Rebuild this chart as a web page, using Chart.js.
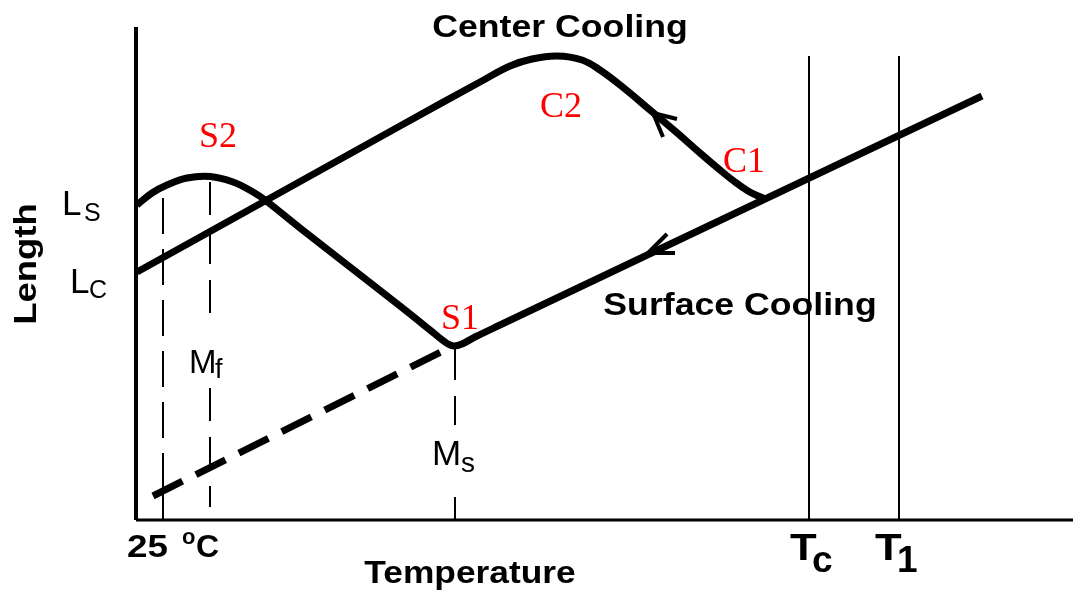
<!DOCTYPE html>
<html>
<head>
<meta charset="utf-8">
<script src="https://cdn.jsdelivr.net/npm/chart.js@4.4.1/dist/chart.umd.min.js"></script>
<style>
  html, body { margin: 0; padding: 0; background: #fff; }
</style>
</head>
<body>
<canvas id="c" width="1073" height="592"></canvas>
<script>
// temperature (x) and length (y) in arbitrary units
const surfaceT = [1, 16, 31, 51, 74, 97, 117, 129, 164, 214, 264, 294, 305, 312, 318, 326, 339, 364, 627, 846];
const surfaceL = [315, 327, 335, 342, 343.5, 338, 328, 320, 292, 253, 214, 190, 181, 176, 174, 176, 183, 195, 320, 424];

const centerT = [1, 129, 264, 344, 374, 396, 421, 446, 464, 489, 514, 539, 564, 584, 599, 612, 622, 630];
const centerL = [248, 319, 394, 438, 454, 461, 464, 460, 450, 431, 410, 389, 367, 350, 338, 329, 324, 321];

// dashed extrapolation of the expansion line below Ms
const extrapT = [17, 309];
const extrapL = [24, 170];

// x-axis ticks: 25 oC, Tc, T1
const tickTemps = [27, 673, 763];
const tickTop = [322, 464, 464];

// transformation temperatures
const mfTemp = 74, msTemp = 319;
const mfTop = 338, msTop = 173;

// arrow heads (barb, tip, barb)
const arrowCenterT = [541, 517, 527];
const arrowCenterL = [401, 407, 383];
const arrowSurfT = [531, 512, 539];
const arrowSurfL = [286, 267, 267];

const pts = (xs, ys) => xs.map((x, i) => ({ x: x, y: ys[i] }));

function line(data, width, dash, tension) {
  return {
    data: data,
    borderColor: '#000',
    borderWidth: width,
    borderDash: dash || [],
    borderJoinStyle: 'round',
    pointRadius: 0,
    showLine: true,
    fill: false,
    clip: false,
    tension: tension || 0
  };
}

function txt(ctx, s, x, y, font, o) {
  o = o || {};
  ctx.save();
  ctx.font = font;
  ctx.fillStyle = o.color || '#000';
  ctx.textAlign = o.align || 'left';
  ctx.textBaseline = 'alphabetic';
  ctx.translate(x, y);
  if (o.rot) ctx.rotate(o.rot);
  ctx.scale(o.sx || 1, 1);
  ctx.fillText(s, 0, 0);
  ctx.restore();
}

const BOLD = s => 'bold ' + s + 'px "Liberation Sans", Arial, sans-serif';
const REG = s => s + 'px "Liberation Sans", Arial, sans-serif';
const SERIF = '36px "Liberation Serif", "Times New Roman", serif';

const labelsPlugin = {
  id: 'labels',
  afterDraw(chart) {
    const ctx = chart.ctx;
    const px = v => chart.scales.x.getPixelForValue(v);
    const py = v => chart.scales.y.getPixelForValue(v);

    // titles
    txt(ctx, 'Center Cooling', 560, 37, BOLD(31), { align: 'center', sx: 1.15 });
    txt(ctx, 'Surface Cooling', 740, 315, BOLD(31), { align: 'center', sx: 1.15 });
    txt(ctx, 'Temperature', 470, 583, BOLD(31), { align: 'center', sx: 1.14 });
    txt(ctx, 'Length', 36, 264, BOLD(32), { align: 'center', sx: 1.14, rot: -Math.PI / 2 });

    // tick labels
    const t0 = px(tickTemps[0]), tc = px(tickTemps[1]), t1 = px(tickTemps[2]);
    txt(ctx, '25', t0 - 36, 557, BOLD(32), { sx: 1.15 });
    txt(ctx, 'o', t0 + 19, 544, BOLD(22));
    txt(ctx, 'C', t0 + 33, 557, BOLD(32));
    txt(ctx, 'T', tc - 19, 560, BOLD(37), { sx: 1.18 });
    txt(ctx, 'c', tc + 3, 572, BOLD(37));
    txt(ctx, 'T', t1 - 24, 560, BOLD(37), { sx: 1.18 });
    txt(ctx, '1', t1 - 2, 572, BOLD(37));

    // length markers
    txt(ctx, 'L', 62, py(surfaceL[0]) + 10, REG(35));
    txt(ctx, 'S', 84, py(surfaceL[0]) + 16, REG(25));
    txt(ctx, 'L', 70, py(centerL[0]) + 21, REG(35));
    txt(ctx, 'C', 89, py(centerL[0]) + 26, REG(25));

    // Mf, Ms
    txt(ctx, 'M', px(mfTemp) - 21, 373, REG(33));
    txt(ctx, 'f', px(mfTemp) + 5, 378, REG(27));
    txt(ctx, 'M', px(msTemp) - 23, 465, REG(35));
    txt(ctx, 's', px(msTemp) + 6, 472, REG(28));

    // red point labels
    txt(ctx, 'S2', 218, 147, SERIF, { align: 'center', color: '#ff0000' });
    txt(ctx, 'C2', 561, 117, SERIF, { align: 'center', color: '#ff0000' });
    txt(ctx, 'C1', 744, 172, SERIF, { align: 'center', color: '#ff0000' });
    txt(ctx, 'S1', 460, 329, SERIF, { align: 'center', color: '#ff0000' });
  }
};

new Chart(document.getElementById('c'), {
  type: 'scatter',
  data: {
    datasets: [
      // axes
      line([{ x: 0, y: 0 }, { x: 0, y: 493 }], 4),
      line([{ x: 0, y: 0 }, { x: 937, y: 0 }], 3),
      // Tc, T1 verticals
      line([{ x: tickTemps[1], y: 0 }, { x: tickTemps[1], y: tickTop[1] }], 2),
      line([{ x: tickTemps[2], y: 0 }, { x: tickTemps[2], y: tickTop[2] }], 2),
      // 25 oC dashed vertical
      line([{ x: tickTemps[0], y: tickTop[0] }, { x: tickTemps[0], y: 25 }], 2, [36, 15]),
      line([{ x: tickTemps[0], y: 25 }, { x: tickTemps[0], y: 0 }], 2),
      // Mf dashed vertical (broken at label)
      line([{ x: mfTemp, y: mfTop }, { x: mfTemp, y: 200 }, { x: mfTemp, y: null }, { x: mfTemp, y: 132 }, { x: mfTemp, y: 13 }], 2, [33, 16]),
      // Ms dashed vertical (broken at label)
      line([{ x: msTemp, y: msTop }, { x: msTemp, y: 95 }, { x: msTemp, y: null }, { x: msTemp, y: 23 }, { x: msTemp, y: 0 }], 2, [33, 16]),
      // extrapolated dashed line
      line(pts(extrapT, extrapL), 7, [33, 15]),
      // surface and center curves
      line(pts(surfaceT, surfaceL), 7, null, 0.4),
      line(pts(centerT, centerL), 7, null, 0.4),
      // arrows
      line(pts(arrowCenterT, arrowCenterL), 4),
      line(pts(arrowSurfT, arrowSurfL), 4)
    ]
  },
  options: {
    responsive: false,
    animation: false,
    devicePixelRatio: 1,
    layout: { padding: { left: 136, right: 0, top: 27, bottom: 72 } },
    plugins: { legend: { display: false }, tooltip: { enabled: false } },
    scales: {
      x: { type: 'linear', min: 0, max: 937, display: false },
      y: { type: 'linear', min: 0, max: 493, display: false }
    }
  },
  plugins: [labelsPlugin]
});
</script>
</body>
</html>
